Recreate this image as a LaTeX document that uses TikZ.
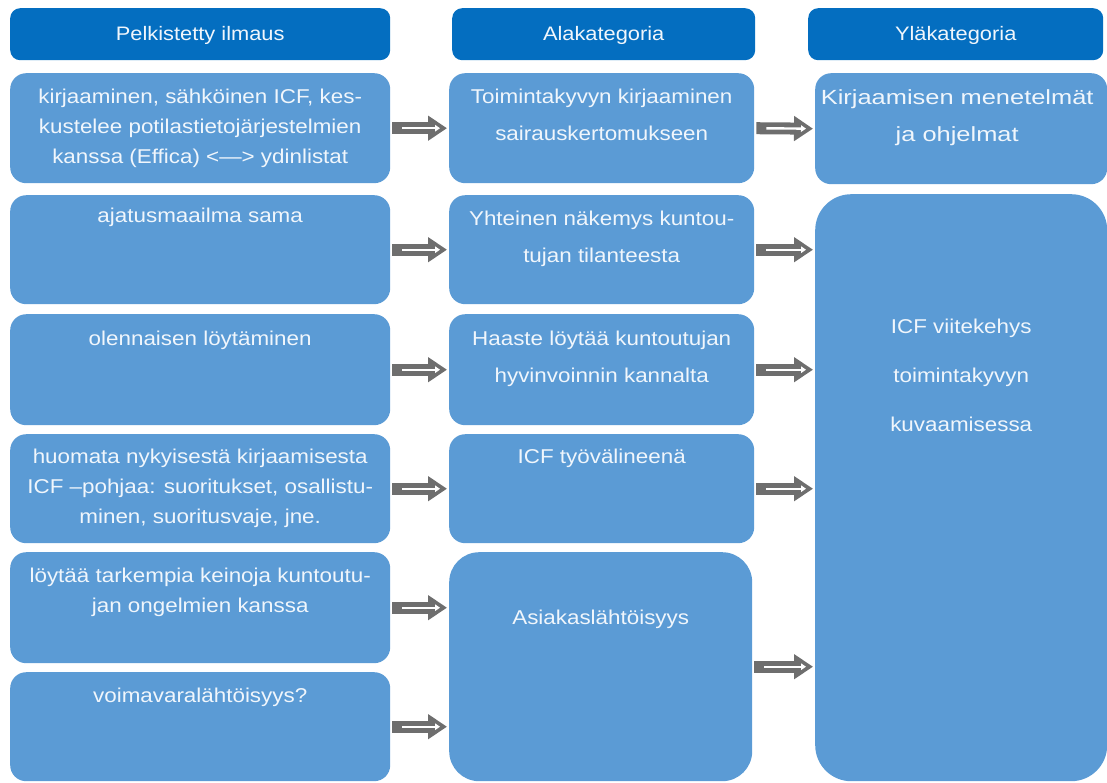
\documentclass[tikz,border=0pt]{standalone}
\usepackage{fontspec}
\setmainfont{Liberation Sans}[FakeStretch=1.12]
\newfontfamily\widesans{Liberation Sans}[FakeStretch=1.24]
\usetikzlibrary{arrows.meta,positioning}
\definecolor{headblue}{RGB}{4,110,192}
\definecolor{boxblue}{RGB}{91,155,213}
\definecolor{txtwhite}{RGB}{240,246,252}
\definecolor{arrgray}{RGB}{110,110,110}
\tikzset{
  head/.style={rectangle, rounded corners=10pt, fill=headblue, anchor=north west, inner sep=0pt},
  headtxt/.style={text=txtwhite, inner sep=0pt, font=\fontsize{19.5}{22}\selectfont},
  card/.style={rectangle, rounded corners=16pt, fill=boxblue, anchor=north west, inner sep=0pt},
  bigcard/.style={card, rounded corners=36pt},
  txt/.style={anchor=north, align=center, text=txtwhite, inner sep=0pt},
  txtl/.style={txt, font=\fontsize{20}{30}\selectfont},
  txtm/.style={txt, font=\fontsize{20}{37}\selectfont},
  txtr/.style={txt, font=\widesans\fontsize{20.5}{37}\selectfont},
  txtb/.style={txt, font=\fontsize{20}{49}\selectfont},
  arrowouter/.style={draw=arrgray, line width=12pt, -{Triangle[length=19pt,width=24pt]},
    shorten <=2pt, shorten >=2pt},
  arrowinner/.style={draw=white, line width=2.4pt, -{Triangle[length=5pt,width=6.5pt]},
    shorten <=12pt, shorten >=9pt}
}
\newcommand\flowarrow[2]{%
  \draw[arrowouter] (#1) -- (#2);
  \draw[arrowinner] (#1) -- (#2);}
\begin{document}
\begin{tikzpicture}[x=1pt,y=-1pt]
\useasboundingbox (0,0) rectangle (1107,782);

% column headers
\node[head, minimum width=380pt, minimum height=52pt] (h1) at (10,8) {};
\node[headtxt] (h1t) at ([yshift=-1pt]h1.center) {Pelkistetty ilmaus};
\node[head, minimum width=303pt, minimum height=52pt] (h2) at (452,8) {};
\node[headtxt] (h2t) at ([yshift=-1pt]h2.center) {Alakategoria};
\node[head, minimum width=295pt, minimum height=52pt] (h3) at (808,8) {};
\node[headtxt] (h3t) at ([yshift=-1pt]h3.center) {Yläkategoria};

% left column: condensed expressions
\node[card, minimum width=380pt, minimum height=110pt] (l1) at (10,73) {};
\node[card, minimum width=380pt, minimum height=109pt] (l2) at (10,195) {};
\node[card, minimum width=380pt, minimum height=111pt] (l3) at (10,314) {};
\node[card, minimum width=380pt, minimum height=109pt] (l4) at (10,434) {};
\node[card, minimum width=380pt, minimum height=111pt] (l5) at (10,552) {};
\node[card, minimum width=380pt, minimum height=109pt] (l6) at (10,672) {};

\node[txtl] (l1t) at ([yshift=-16pt]l1.north) {kirjaaminen, sähköinen ICF, kes-\\kustelee potilastietojärjestelmien\\kanssa (Effica) <—> ydinlistat};
\node[txtl] (l2t) at ([yshift=-13pt]l2.north) {ajatusmaailma sama};
\node[txtl] (l3t) at ([yshift=-17pt]l3.north) {olennaisen löytäminen};
\node[txtl] (l4t) at ([yshift=-15pt]l4.north) {huomata nykyisestä kirjaamisesta\\ICF –pohjaa: suoritukset, osallistu-\\minen, suoritusvaje, jne.};
\node[txtl] (l5t) at ([yshift=-16pt]l5.north) {löytää tarkempia keinoja kuntoutu-\\jan ongelmien kanssa};
\node[txtl] (l6t) at ([yshift=-16pt]l6.north) {voimavaralähtöisyys?};

% middle column: subcategories
\node[card, minimum width=305pt, minimum height=110pt] (m1) at (449,73) {};
\node[card, minimum width=305pt, minimum height=109pt] (m2) at (449,195) {};
\node[card, minimum width=305pt, minimum height=111pt] (m3) at (449,314) {};
\node[card, minimum width=305pt, minimum height=109pt] (m4) at (449,434) {};
\node[card, rounded corners=30pt, minimum width=303pt, minimum height=229pt] (m5) at (449,552) {};

\node[txtm] (m1t) at ([yshift=-16pt]m1.north) {Toimintakyvyn kirjaaminen\\sairauskertomukseen};
\node[txtm] (m2t) at ([yshift=-16pt]m2.north) {Yhteinen näkemys kuntou-\\tujan tilanteesta};
\node[txtm] (m3t) at ([yshift=-17pt]m3.north) {Haaste löytää kuntoutujan\\hyvinvoinnin kannalta};
\node[txtm] (m4t) at ([yshift=-15pt]m4.north) {ICF työvälineenä};
\node[txtm] (m5t) at ([yshift=-58pt]m5.north) {Asiakaslähtöisyys};

% right column: main categories
\node[card, minimum width=292pt, minimum height=111pt] (r1) at (815,73) {};
\node[bigcard, minimum width=292pt, minimum height=587pt] (r2) at (815,194) {};

\node[txtr] (r1t) at ([xshift=-4pt,yshift=-16pt]r1.north) {Kirjaamisen menetelmät\\ja ohjelmat};
\node[txtb] (r2t) at ([yshift=-125pt]r2.north) {ICF viitekehys\\toimintakyvyn\\kuvaamisessa};

% connectors
\flowarrow{l1.east}{m1.west}
\flowarrow{l2.east}{m2.west}
\flowarrow{l3.east}{m3.west}
\flowarrow{l4.east}{m4.west}
\flowarrow{l5.east}{l5.east -| m5.west}
\flowarrow{l6.east}{l6.east -| m5.west}
\flowarrow{m1.east}{r1.west}
\flowarrow{m2.east}{m2.east -| r2.west}
\flowarrow{m3.east}{m3.east -| r2.west}
\flowarrow{m4.east}{m4.east -| r2.west}
\flowarrow{m5.east}{m5.east -| r2.west}
\end{tikzpicture}
\end{document}
